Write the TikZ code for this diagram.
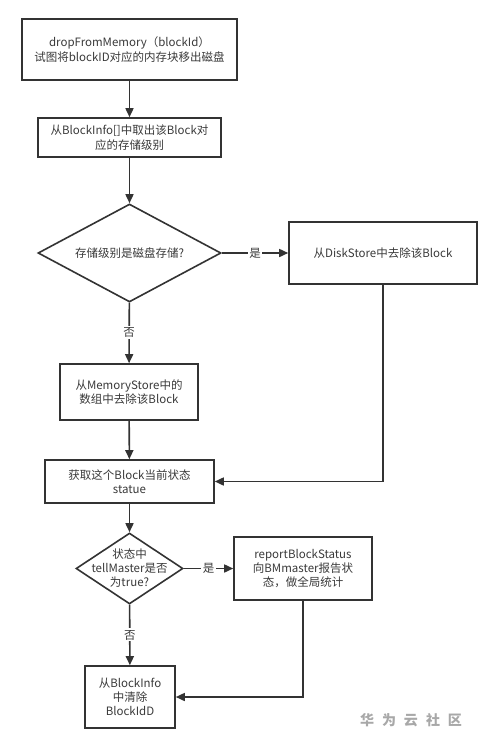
\documentclass[tikz,border=0pt]{standalone}
\usepackage{fontspec}
\setmainfont{Noto Sans CJK SC}
\usetikzlibrary{shapes.geometric,arrows.meta}
\definecolor{lc}{HTML}{333333}
\definecolor{tc}{HTML}{3A3A3A}
\definecolor{wm}{HTML}{A8A8A8}
\begin{document}
\begin{tikzpicture}[x=1pt,y=-1pt,
  box/.style={draw=lc, line width=1.6pt, rectangle, inner sep=0pt, align=center, text=tc, font=\fontsize{11.5}{14.5}\selectfont},
  dia/.style={draw=lc, line width=1.6pt, diamond, inner sep=0pt},
  lbl/.style={text=tc, align=center, inner sep=0pt, font=\fontsize{11.5}{14}\selectfont},
  conn/.style={draw=lc, line width=1.6pt, -{Triangle[length=9pt,width=8pt]}},
  yn/.style={fill=white, text=tc, inner sep=1.5pt, font=\fontsize{11.5}{13}\selectfont}]
\fill[white] (0,0) rectangle (478,746);
\useasboundingbox (0,0) rectangle (478,746);

\node[box, minimum width=215, minimum height=61] (start) at (129.5,49.5) {dropFromMemory（blockId）\\试图将blockID对应的内存块移出磁盘};
\node[box, minimum width=183, minimum height=39] (level) at (129.5,137.5) {从BlockInfo[]中取出该Block对\\应的存储级别};
\node[dia, minimum width=183, minimum height=98] (d1) at (129.5,253) {};
\node[lbl] (d1t) at (d1.center) {存储级别是磁盘存储?};
\node[box, minimum width=188, minimum height=62] (disk) at (383,253) {从DiskStore中去除该Block};
\node[box, minimum width=138, minimum height=56] (mem) at (129,392) {从MemoryStore中的\\数组中去除该Block};
\node[box, minimum width=169, minimum height=43] (get) at (129.5,481.5) {获取这个Block当前状态\\statue};
\node[dia, minimum width=107, minimum height=71] (d2) at (129.5,568.5) {};
\node[lbl] (d2t) at (d2.center) {状态中\\tellMaster是否\\为true?};
\node[box, minimum width=138, minimum height=63, font=\fontsize{11.5}{14}\selectfont] (rep) at (303,568.5) {reportBlockStatus\\向BMmaster报告状\\态，做全局统计};
\node[box, minimum width=90, minimum height=62, font=\fontsize{11.5}{14}\selectfont] (clr) at (130,697) {从BlockInfo\\中清除\\BlockIdD};

\draw[conn] (start) -- (level);
\draw[conn] (level) -- (d1);
\draw[conn] (d1) -- node[yn] {是} (disk);
\draw[conn] (d1) -- node[yn] {否} (mem);
\draw[conn] (disk.south) |- (get.east);
\draw[conn] (mem) -- (get);
\draw[conn] (get) -- (d2);
\draw[conn] (d2) -- node[yn] {是} (rep);
\draw[conn] (d2) -- node[yn] {否} (clr);
\draw[conn] (rep.south) |- (clr.east);

\node[text=wm, inner sep=0pt, font=\fontsize{14}{14}\selectfont\bfseries] (wmark) at (411,720) {华\hspace{8pt}为\hspace{8pt}云\hspace{8pt}社\hspace{8pt}区};
\end{tikzpicture}
\end{document}
